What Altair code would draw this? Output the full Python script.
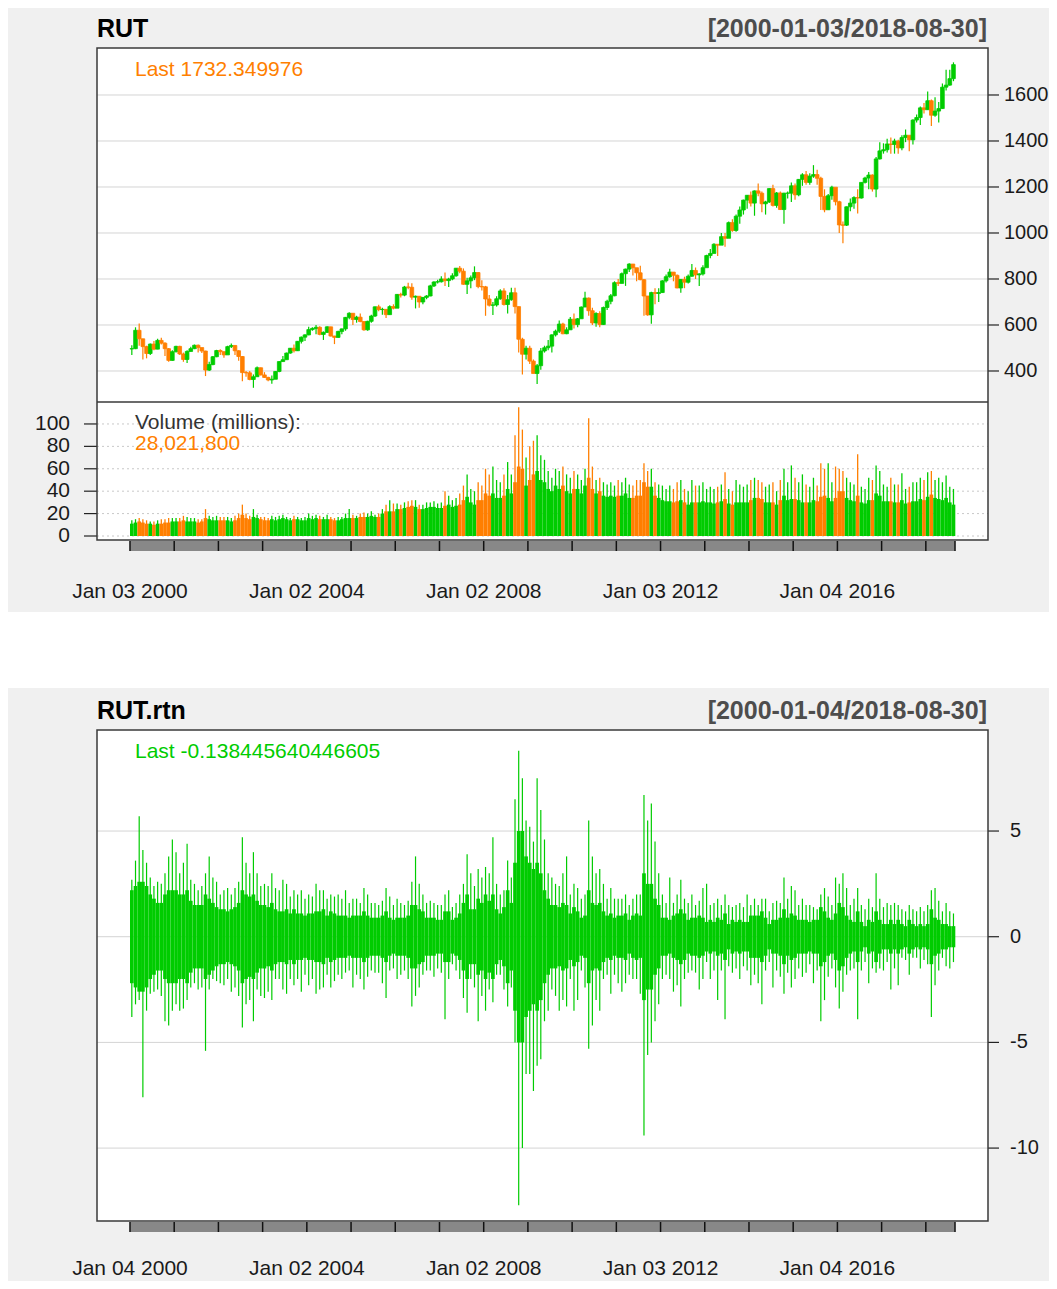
import altair as alt
import numpy as np
import pandas as pd

GREEN = "#00CC00"
ORANGE = "#FF7F00"
FONT = "Liberation Sans"
BG = "#F0F0F0"
FS = 21

# ---------------- data (monthly) ----------------
first_open = 496
close = [
    497, 577, 540, 506, 476, 517, 495, 533, 521, 497, 446, 484,
    507, 474, 450, 485, 497, 512, 502, 487, 404, 428, 462, 489,
    484, 470, 506, 511, 488, 463, 393, 392, 363, 375, 414, 383,
    372, 361, 364, 398, 441, 449, 478, 499, 488, 529, 547, 557,
    580, 585, 590, 559, 568, 592, 552, 546, 572, 583, 633, 651,
    624, 634, 615, 579, 616, 639, 679, 667, 668, 645, 680, 673,
    733, 730, 765, 764, 721, 725, 700, 720, 726, 770, 787, 788,
    800, 793, 800, 814, 847, 834, 777, 792, 805, 828, 767, 766,
    713, 686, 687, 714, 748, 689, 710, 740, 680, 538, 473, 499,
    443, 389, 423, 487, 501, 508, 557, 573, 604, 562, 579, 625,
    602, 627, 678, 717, 662, 609, 650, 602, 676, 703, 727, 784,
    781, 823, 843, 865, 849, 827, 797, 726, 644, 741, 737, 741,
    792, 810, 830, 816, 761, 798, 786, 812, 837, 818, 822, 849,
    902, 911, 951, 947, 984, 977, 1045, 1011, 1073, 1100, 1143, 1164,
    1130, 1183, 1173, 1127, 1135, 1193, 1120, 1174, 1102, 1173, 1173, 1205,
    1166, 1233, 1253, 1220, 1247, 1254, 1238, 1159, 1101, 1162, 1199, 1136,
    1035, 1034, 1114, 1130, 1154, 1152, 1220, 1239, 1252, 1191, 1322, 1357,
    1362, 1387, 1385, 1400, 1370, 1415, 1425, 1405, 1491, 1502, 1544, 1536,
    1575, 1512, 1530, 1541, 1634, 1643, 1671, 1732,
]
high = [
    512, 590, 606, 540, 510, 520, 530, 540, 545, 525, 500, 490,
    510, 510, 480, 490, 505, 515, 515, 500, 488, 440, 465, 492,
    495, 485, 510, 520, 512, 490, 465, 400, 400, 385, 420, 415,
    395, 375, 380, 400, 442, 465, 480, 500, 515, 530, 550, 560,
    592, 590, 600, 595, 572, 595, 592, 553, 575, 585, 635, 655,
    651, 640, 650, 616, 618, 645, 680, 688, 675, 670, 686, 690,
    735, 740, 770, 784, 782, 728, 725, 722, 730, 775, 790, 797,
    812, 828, 805, 825, 847, 856, 846, 805, 815, 855, 830, 795,
    770, 730, 700, 725, 755, 760, 730, 762, 762, 680, 545, 510,
    510, 450, 430, 500, 510, 535, 560, 580, 620, 610, 590, 635,
    650, 630, 680, 745, 720, 675, 655, 660, 680, 710, 735, 790,
    800, 828, 845, 868, 865, 840, 858, 800, 720, 745, 760, 760,
    795, 820, 845, 830, 820, 800, 810, 820, 865, 850, 825, 860,
    905, 930, 955, 950, 1000, 1000, 1050, 1060, 1080, 1115, 1145, 1165,
    1180, 1185, 1215, 1180, 1140, 1195, 1210, 1178, 1180, 1175, 1180, 1220,
    1215, 1235, 1260, 1270, 1260, 1295, 1275, 1245, 1190, 1170, 1205, 1190,
    1140, 1050, 1115, 1150, 1160, 1190, 1220, 1245, 1265, 1255, 1330, 1395,
    1390, 1410, 1415, 1410, 1405, 1425, 1450, 1420, 1495, 1515, 1550, 1565,
    1615, 1580, 1590, 1570, 1650, 1710, 1710, 1742,
]
low = [
    470, 495, 510, 450, 455, 470, 490, 495, 515, 465, 440, 445,
    480, 470, 440, 435, 485, 495, 480, 478, 378, 400, 425, 460,
    470, 458, 475, 500, 470, 445, 355, 375, 360, 327, 375, 380,
    370, 355, 345, 365, 395, 440, 450, 475, 480, 487, 520, 530,
    555, 575, 560, 555, 535, 565, 550, 517, 545, 560, 575, 625,
    600, 610, 612, 575, 575, 610, 635, 660, 645, 630, 645, 668,
    675, 720, 725, 755, 710, 672, 675, 690, 712, 725, 765, 780,
    785, 770, 765, 795, 810, 825, 775, 735, 760, 795, 760, 750,
    640, 680, 643, 680, 710, 685, 650, 705, 650, 480, 385, 450,
    430, 390, 343, 405, 480, 490, 480, 550, 565, 560, 560, 580,
    585, 590, 628, 680, 640, 600, 592, 590, 600, 665, 690, 725,
    770, 780, 770, 830, 815, 790, 795, 640, 640, 605, 690, 700,
    740, 785, 805, 790, 760, 740, 760, 780, 810, 800, 770, 815,
    855, 890, 915, 900, 950, 940, 980, 1005, 1005, 1040, 1080, 1105,
    1115, 1075, 1160, 1090, 1080, 1130, 1115, 1110, 1100, 1040, 1150, 1135,
    1145, 1160, 1205, 1210, 1210, 1240, 1210, 1100, 1090, 1100, 1145, 1120,
    1000, 955, 1030, 1095, 1105, 1085, 1150, 1215, 1190, 1180, 1155, 1320,
    1345, 1350, 1345, 1345, 1345, 1360, 1395, 1355, 1385, 1480, 1470, 1520,
    1535, 1465, 1505, 1480, 1540, 1620, 1640, 1660,
]
vol_avg = [
    11, 12, 13, 12, 11, 11, 10, 11, 11, 12, 12, 13,
    13, 13, 14, 13, 13, 13, 12, 13, 16, 15, 14, 14,
    14, 14, 14, 13, 14, 16, 19, 16, 15, 17, 16, 15,
    14, 14, 15, 14, 15, 16, 15, 14, 15, 15, 14, 14,
    16, 15, 16, 15, 15, 15, 15, 14, 14, 15, 16, 16,
    16, 16, 17, 17, 17, 18, 17, 17, 20, 22, 22, 22,
    24, 24, 25, 26, 27, 26, 24, 24, 25, 26, 26, 25,
    25, 27, 28, 26, 27, 28, 32, 35, 30, 28, 32, 32,
    38, 36, 38, 34, 34, 36, 42, 38, 48, 62, 60, 45,
    50, 55, 58, 50, 48, 42, 40, 45, 42, 45, 40, 38,
    42, 42, 38, 45, 52, 42, 38, 40, 36, 35, 36, 35,
    36, 36, 38, 34, 34, 36, 36, 48, 44, 44, 36, 34,
    32, 31, 31, 30, 31, 32, 30, 28, 30, 30, 30, 31,
    30, 30, 29, 30, 31, 33, 29, 28, 30, 30, 30, 30,
    32, 34, 34, 33, 30, 30, 30, 28, 32, 36, 32, 33,
    33, 32, 30, 30, 30, 32, 31, 35, 36, 34, 31, 34,
    40, 40, 34, 32, 31, 36, 30, 29, 32, 32, 38, 36,
    31, 31, 31, 30, 30, 32, 29, 30, 31, 31, 33, 32,
    35, 37, 34, 33, 32, 34, 30, 28,
]
vol_max = [
    14, 15, 16, 15, 14, 13, 13, 14, 15, 15, 16, 16,
    16, 16, 18, 17, 16, 16, 15, 15, 24, 18, 17, 18,
    17, 17, 17, 16, 18, 20, 28, 20, 18, 24, 19, 17,
    17, 16, 18, 17, 18, 19, 17, 16, 18, 17, 16, 17,
    20, 18, 19, 18, 17, 19, 17, 16, 17, 17, 20, 24,
    19, 18, 20, 21, 20, 22, 19, 20, 24, 28, 32, 29,
    29, 28, 30, 31, 32, 32, 28, 28, 30, 30, 31, 29,
    30, 40, 36, 32, 34, 38, 45, 55, 42, 40, 48, 45,
    60, 55, 62, 50, 48, 55, 66, 55, 90, 115, 95, 70,
    80, 85, 90, 72, 68, 58, 52, 60, 58, 62, 55, 52,
    58, 55, 50, 60, 105, 62, 50, 52, 48, 46, 48, 45,
    50, 48, 52, 46, 45, 50, 50, 65, 58, 60, 48, 46,
    45, 42, 45, 42, 48, 50, 42, 40, 50, 45, 45, 48,
    42, 44, 42, 44, 46, 57, 42, 40, 50, 46, 44, 46,
    50, 52, 50, 48, 44, 46, 48, 40, 50, 60, 48, 63,
    52, 48, 55, 46, 44, 52, 45, 65, 60, 65, 48, 62,
    60, 58, 52, 48, 46, 73, 44, 42, 52, 50, 63, 58,
    46, 44, 52, 46, 46, 56, 42, 44, 48, 48, 52, 50,
    57, 58, 50, 52, 48, 54, 44, 42,
]
rtn_hi = [
    2.7, 3.6, 5.7, 4.1, 3.5, 2.8, 2.4, 2.6, 2.5, 3.0, 3.8, 4.6,
    4.0, 3.0, 3.5, 4.4, 2.7, 2.5, 2.2, 2.4, 3.0, 3.8, 2.8, 2.6,
    2.0, 2.2, 2.3, 2.0, 2.3, 2.6, 4.7, 3.5, 3.0, 4.0, 3.0, 2.4,
    2.5, 2.4, 3.0, 2.3, 2.2, 2.7, 2.5, 1.9, 2.2, 2.0, 2.2, 1.8,
    2.0, 1.9, 2.5, 2.2, 2.2, 1.8, 2.0, 1.9, 2.0, 1.8, 2.2, 1.6,
    1.8, 1.8, 1.6, 2.3, 2.0, 1.6, 1.6, 1.5, 1.7, 2.3, 1.9, 1.5,
    1.8, 1.6, 1.5, 1.7, 2.6, 3.8, 2.5, 2.0, 1.6, 1.7, 1.6, 1.5,
    1.5, 2.0, 2.2, 1.4, 1.6, 2.0, 2.5, 3.9, 3.0, 2.4, 3.2, 2.8,
    3.3, 3.0, 4.7, 2.5, 2.0, 2.2, 3.6, 2.8, 6.5, 8.8, 7.5, 5.5,
    5.2, 4.5, 7.5, 6.0, 4.6, 3.0, 2.8, 2.5, 2.4, 3.0, 3.8, 2.0,
    2.5, 2.3, 1.8, 2.0, 5.5, 3.8, 3.0, 3.2, 2.5, 1.8, 2.3, 1.8,
    1.8, 1.8, 2.0, 1.5, 1.8, 2.0, 2.0, 6.7, 5.5, 6.3, 4.5, 3.0,
    2.0, 1.6, 2.8, 1.6, 2.0, 2.7, 1.8, 1.6, 2.0, 1.5, 1.7, 2.3,
    2.5, 1.5, 1.6, 1.8, 1.5, 2.0, 1.5, 1.4, 1.5, 1.6, 1.4, 2.0,
    1.5, 1.8, 1.5, 1.8, 1.8, 1.2, 1.6, 1.7, 1.6, 2.8, 1.8, 2.4,
    2.2, 1.5, 1.8, 1.5, 1.5, 1.4, 1.3, 2.0, 2.3, 1.9, 1.5, 2.8,
    2.5, 3.0, 2.3, 1.5, 1.8, 2.3, 1.5, 1.3, 1.8, 1.4, 3.0, 1.8,
    1.4, 1.6, 1.5, 1.6, 1.5, 1.3, 1.2, 1.5, 1.3, 1.2, 1.4, 1.2,
    1.5, 2.2, 2.3, 1.7, 1.2, 1.6, 1.2, 1.1,
]
rtn_lo = [
    -3.8, -3.2, -3.0, -7.6, -3.5, -2.7, -2.6, -2.5, -2.8, -4.0, -4.2, -3.5,
    -3.2, -3.5, -3.4, -3.0, -2.4, -2.2, -2.5, -2.4, -5.4, -2.5, -2.0, -2.1,
    -2.2, -2.3, -2.0, -2.6, -2.4, -2.8, -4.3, -3.2, -3.0, -4.0, -2.5, -2.8,
    -2.9, -2.6, -3.0, -2.0, -2.0, -2.5, -2.7, -2.0, -2.3, -2.0, -2.6, -1.8,
    -2.3, -2.0, -2.7, -2.5, -2.4, -1.8, -2.4, -2.1, -1.8, -2.0, -1.7, -1.6,
    -2.4, -1.8, -2.0, -2.5, -1.9, -1.6, -1.7, -1.7, -2.2, -2.9, -1.6, -1.5,
    -2.0, -1.8, -1.6, -2.0, -3.3, -2.8, -2.4, -1.8, -1.6, -1.6, -1.9, -1.5,
    -1.7, -3.9, -2.0, -1.3, -1.6, -2.0, -2.9, -3.6, -2.0, -2.4, -4.0, -2.8,
    -3.5, -2.5, -3.1, -1.8, -1.8, -2.5, -3.3, -2.4, -5.0, -12.7, -10.0, -6.5,
    -6.5, -7.3, -6.1, -5.8, -4.0, -3.5, -2.5, -2.8, -3.5, -3.0, -3.3, -2.0,
    -3.5, -3.0, -1.6, -2.4, -5.3, -4.2, -3.0, -3.5, -2.0, -1.8, -2.7, -1.8,
    -2.2, -2.6, -2.2, -1.8, -2.0, -2.0, -2.7, -9.4, -5.6, -5.0, -4.0, -3.2,
    -2.0, -1.8, -2.0, -2.6, -2.3, -3.3, -2.0, -1.7, -1.6, -1.7, -2.5, -2.0,
    -1.2, -2.0, -1.6, -3.0, -1.6, -3.9, -1.4, -1.7, -1.5, -2.0, -1.4, -1.6,
    -2.3, -1.8, -2.2, -3.2, -1.6, -1.2, -2.4, -1.6, -1.9, -2.7, -1.7, -2.4,
    -2.0, -1.5, -1.9, -1.7, -1.3, -2.2, -1.6, -4.0, -3.0, -1.9, -1.5, -2.4,
    -3.4, -2.6, -1.8, -1.6, -1.5, -3.9, -1.6, -1.2, -2.2, -1.5, -1.7, -1.5,
    -1.6, -1.2, -2.5, -1.5, -2.3, -1.0, -1.1, -1.8, -1.0, -1.0, -1.5, -1.1,
    -1.3, -3.8, -2.3, -1.6, -1.0, -1.4, -1.5, -1.2,
]
rtn_core = [
    2.2, 2.4, 2.6, 2.6, 2.4, 2.0, 1.8, 1.6, 1.6, 2.0, 2.2, 2.2,
    2.2, 2.0, 2.0, 2.2, 1.7, 1.5, 1.5, 1.5, 2.0, 1.8, 1.6, 1.4,
    1.3, 1.3, 1.2, 1.3, 1.4, 1.6, 2.2, 2.0, 1.9, 2.0, 1.7, 1.5,
    1.5, 1.4, 1.6, 1.3, 1.2, 1.2, 1.3, 1.1, 1.3, 1.1, 1.1, 1.0,
    1.1, 1.1, 1.2, 1.2, 1.3, 1.0, 1.2, 1.1, 1.0, 1.0, 1.0, 0.9,
    1.0, 1.0, 1.0, 1.2, 1.0, 0.9, 0.9, 0.9, 1.0, 1.2, 0.9, 0.8,
    0.9, 0.9, 0.9, 1.0, 1.5, 1.5, 1.3, 1.2, 0.9, 0.9, 0.9, 0.8,
    0.8, 1.2, 1.2, 0.8, 0.9, 1.1, 1.6, 2.0, 1.3, 1.3, 1.8, 1.6,
    2.0, 1.7, 2.0, 1.3, 1.1, 1.4, 2.2, 1.6, 3.5, 5.0, 5.0, 3.8,
    3.5, 3.2, 3.5, 3.0, 2.2, 1.8, 1.5, 1.5, 1.4, 1.6, 1.5, 1.1,
    1.4, 1.2, 0.9, 1.0, 2.2, 1.6, 1.5, 1.6, 1.2, 1.0, 1.1, 0.9,
    1.0, 1.0, 1.1, 0.8, 1.0, 1.1, 1.0, 3.0, 2.5, 2.5, 1.8, 1.5,
    0.9, 0.9, 0.8, 1.0, 1.1, 1.3, 1.1, 0.8, 0.9, 0.9, 1.0, 0.9,
    0.7, 0.8, 0.7, 0.9, 0.8, 1.1, 0.6, 0.8, 0.7, 0.8, 0.7, 0.7,
    1.0, 1.0, 1.0, 1.2, 0.9, 0.6, 0.8, 0.8, 0.9, 1.3, 0.9, 1.1,
    1.0, 0.8, 0.8, 0.8, 0.7, 0.8, 0.8, 1.4, 1.2, 0.9, 0.8, 1.1,
    1.6, 1.4, 1.0, 0.8, 0.7, 1.2, 0.7, 0.5, 0.8, 0.7, 1.2, 0.8,
    0.6, 0.6, 0.8, 0.6, 0.8, 0.6, 0.5, 0.8, 0.6, 0.5, 0.6, 0.5,
    0.6, 1.3, 0.9, 0.8, 0.6, 0.6, 0.5, 0.5,
]

price_ticks = [400, 600, 800, 1000, 1200, 1400, 1600]
vol_ticks = [0, 20, 40, 60, 80, 100]
rtn_ticks = [5, 0, -5, -10]
year_marks = list(range(2000, 2019)) + [2018.66]
label_years = [2000, 2004, 2008, 2012, 2016]
top_labels = ["Jan 03 2000", "Jan 02 2004", "Jan 02 2008", "Jan 03 2012", "Jan 04 2016"]
bot_labels = ["Jan 04 2000", "Jan 02 2004", "Jan 02 2008", "Jan 03 2012", "Jan 04 2016"]
series_start, series_end = 2000.0, 2018.66

title_top = "RUT"
range_top = "[2000-01-03/2018-08-30]"
last_top = "Last 1732.349976"
vol_title = "Volume (millions):"
vol_last = "28,021,800"
title_bot = "RUT.rtn"
range_bot = "[2000-01-04/2018-08-30]"
last_bot = "Last -0.138445640446605"

# ---------------- tables ----------------
n = len(close)
idx = np.arange(n)
m = pd.DataFrame({
    "t0": 2000 + idx / 12.0,
    "t1": 2000 + (idx + 1) / 12.0,
    "open": [first_open] + close[:-1],
    "close": close, "high": high, "low": low,
    "vavg": vol_avg, "vmax": vol_max,
    "rhi": rtn_hi, "rlo": rtn_lo, "core": rtn_core,
})
m["tm"] = (m["t0"] + m["t1"]) / 2
m["dir"] = np.where(m["close"] >= m["open"], "up", "down")
m["ncore"] = -m["core"]
m["zero"] = 0.0

W, H = 1041, 1273
XS = alt.Scale(domain=[1999.254, 2019.406], range=[89, 980], nice=False, zero=False)
YP = alt.Scale(domain=[265.2, 1804.3], range=[394, 40], nice=False, zero=False)
YV = alt.Scale(domain=[-3.57, 119.6], range=[532, 394], nice=False, zero=False)
YR = alt.Scale(domain=[-13.45, 9.78], range=[1213, 722], nice=False, zero=False)
CS = alt.Scale(domain=["up", "down"], range=[GREEN, ORANGE])

one = pd.DataFrame({"k": [0]})


def box(x0, x1, y0, y1, **kw):
    return alt.Chart(one).mark_rect(**kw).encode(
        x=alt.value(x0), x2=alt.value(x1), y=alt.value(y0), y2=alt.value(y1))


def label(txt, x, y, **kw):
    base = dict(font=FONT, baseline="middle", align="left")
    base.update(kw)
    return alt.Chart(one).mark_text(text=txt, **base).encode(x=alt.value(x), y=alt.value(y))


def X(f):
    return alt.X(f, type="quantitative", scale=XS, axis=None)


layers = []
# panel backgrounds and plot boxes
layers.append(box(0, W, 0, 604, color=BG))
layers.append(box(0, W, 680, H, color=BG))
layers.append(box(89, 980, 40, 532, color="white"))
layers.append(box(89, 980, 722, 1213, color="white"))

# grids
pt = pd.DataFrame({"v": price_ticks, "lab": [str(v) for v in price_ticks]})
vt = pd.DataFrame({"v": vol_ticks, "lab": [str(v) for v in vol_ticks]})
rt = pd.DataFrame({"v": rtn_ticks, "lab": [str(v) for v in rtn_ticks]})
layers.append(alt.Chart(pt).mark_rule(color="#D4D4D4", strokeWidth=1).encode(
    x=alt.value(89), x2=alt.value(980), y=alt.Y("v:Q", scale=YP, axis=None)))
layers.append(alt.Chart(vt).mark_rule(color="#C8C8C8", strokeWidth=1, strokeDash=[2, 3]).encode(
    x=alt.value(89), x2=alt.value(980), y=alt.Y("v:Q", scale=YV, axis=None)))
layers.append(alt.Chart(rt).mark_rule(color="#D4D4D4", strokeWidth=1).encode(
    x=alt.value(89), x2=alt.value(980), y=alt.Y("v:Q", scale=YR, axis=None)))

color = alt.Color("dir:N", scale=CS, legend=None)
stroke = alt.Stroke("dir:N", scale=CS, legend=None)

# volume
layers.append(alt.Chart(m).mark_rect(strokeWidth=0).encode(
    x=X("t0"), x2="t1", y=alt.Y("zero:Q", scale=YV, axis=None), y2="vavg:Q", color=color))
layers.append(alt.Chart(m).mark_rule(strokeWidth=1.3).encode(
    x=X("tm"), y=alt.Y("zero:Q", scale=YV, axis=None), y2="vmax:Q", color=color))

# price candles (monthly)
layers.append(alt.Chart(m).mark_rule(strokeWidth=1.2).encode(
    x=X("tm"), y=alt.Y("low:Q", scale=YP, axis=None), y2="high:Q", color=color))
layers.append(alt.Chart(m).mark_rect(strokeWidth=0.8).encode(
    x=X("t0"), x2="t1", y=alt.Y("open:Q", scale=YP, axis=None), y2="close:Q",
    color=color, stroke=stroke))

# returns
layers.append(alt.Chart(m).mark_rect(color=GREEN, strokeWidth=0).encode(
    x=X("t0"), x2="t1", y=alt.Y("ncore:Q", scale=YR, axis=None), y2="core:Q"))
layers.append(alt.Chart(m).mark_rule(color=GREEN, strokeWidth=1.2).encode(
    x=X("tm"), y=alt.Y("rlo:Q", scale=YR, axis=None), y2="rhi:Q"))

# x-axis gray bars with year separators
span = pd.DataFrame({"a": [series_start], "b": [series_end]})
ym = pd.DataFrame({"t": year_marks})
for y0, y1 in [(533, 543), (1214, 1224)]:
    layers.append(alt.Chart(span).mark_rect(color="#888888").encode(
        x=X("a"), x2="b", y=alt.value(y0), y2=alt.value(y1)))
    layers.append(alt.Chart(ym).mark_rule(color="#111111", strokeWidth=1.5).encode(
        x=X("t"), y=alt.value(y0), y2=alt.value(y1)))

tl = pd.DataFrame({"t": label_years, "lab": top_labels})
bl = pd.DataFrame({"t": label_years, "lab": bot_labels})
layers.append(alt.Chart(tl).mark_text(font=FONT, fontSize=FS, color="#1A1A1A", baseline="middle").encode(
    x=X("t"), y=alt.value(584), text="lab:N"))
layers.append(alt.Chart(bl).mark_text(font=FONT, fontSize=FS, color="#1A1A1A", baseline="middle").encode(
    x=X("t"), y=alt.value(1261), text="lab:N"))

# y tick marks and labels (right side kept inside the page width)
RFS = 20
layers.append(alt.Chart(pt).mark_rule(color="#222222", strokeWidth=1.2).encode(
    x=alt.value(980), x2=alt.value(991), y=alt.Y("v:Q", scale=YP, axis=None)))
layers.append(alt.Chart(pt).mark_text(font=FONT, fontSize=RFS, color="#1A1A1A", align="left", baseline="middle").encode(
    x=alt.value(996), y=alt.Y("v:Q", scale=YP, axis=None), text="lab:N"))
layers.append(alt.Chart(rt).mark_rule(color="#222222", strokeWidth=1.2).encode(
    x=alt.value(980), x2=alt.value(991), y=alt.Y("v:Q", scale=YR, axis=None)))
layers.append(alt.Chart(rt).mark_text(font=FONT, fontSize=RFS, color="#1A1A1A", align="left", baseline="middle").encode(
    x=alt.value(1002), y=alt.Y("v:Q", scale=YR, axis=None), text="lab:N"))
layers.append(alt.Chart(vt).mark_rule(color="#222222", strokeWidth=1.2).encode(
    x=alt.value(76), x2=alt.value(89), y=alt.Y("v:Q", scale=YV, axis=None)))
layers.append(alt.Chart(vt).mark_text(font=FONT, fontSize=FS, color="#1A1A1A", align="right", baseline="middle").encode(
    x=alt.value(62), y=alt.Y("v:Q", scale=YV, axis=None), text="lab:N"))

# titles and annotations
TFS = 25
layers.append(label(title_top, 89, 21, fontSize=TFS, fontWeight="bold", color="#000000"))
layers.append(label(range_top, 979, 21, fontSize=TFS, fontWeight="bold", color="#4D4D4D", align="right"))
layers.append(label(last_top, 127, 62, fontSize=FS, color=ORANGE))
layers.append(label(vol_title, 127, 415, fontSize=FS, color="#333333"))
layers.append(label(vol_last, 127, 436, fontSize=FS, color=ORANGE))
layers.append(label(title_bot, 89, 703, fontSize=TFS, fontWeight="bold", color="#000000"))
layers.append(label(range_bot, 979, 703, fontSize=TFS, fontWeight="bold", color="#4D4D4D", align="right"))
layers.append(label(last_bot, 127, 744, fontSize=FS, color=GREEN))

# borders
layers.append(box(89, 980, 40, 532, filled=False, stroke="#3A3A3A", strokeWidth=1.5))
layers.append(box(89, 980, 722, 1213, filled=False, stroke="#3A3A3A", strokeWidth=1.5))
layers.append(alt.Chart(one).mark_rule(color="#3A3A3A", strokeWidth=1.5).encode(
    x=alt.value(89), x2=alt.value(980), y=alt.value(394)))

chart = alt.layer(*layers).resolve_scale(y="independent").properties(
    width=W, height=H,
    autosize=alt.AutoSizeParams(type="none"),
    padding=0,
    background="white",
).configure_view(stroke=None)

chart.save("out.html", embed_options={"renderer": "svg", "actions": False})
